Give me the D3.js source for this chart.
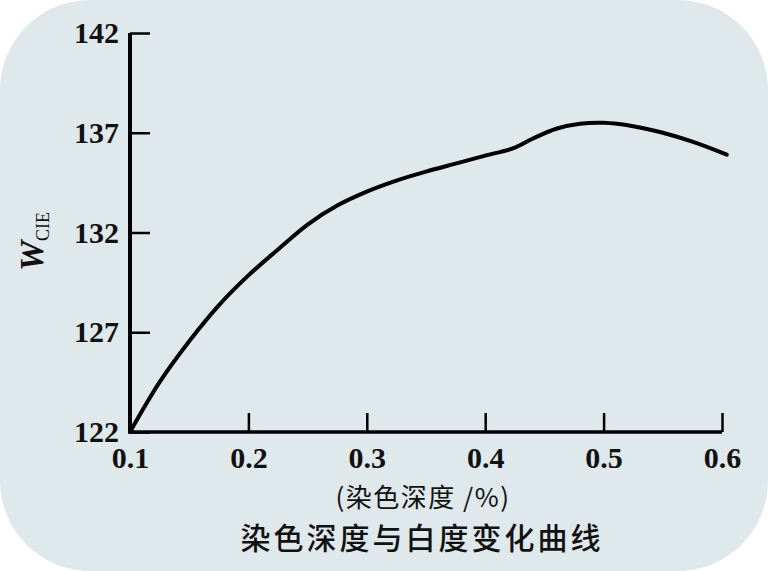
<!DOCTYPE html>
<html>
<head>
<meta charset="utf-8">
<script src="https://cdn.jsdelivr.net/npm/d3@7/dist/d3.min.js"></script>
<style>
  html, body { margin: 0; padding: 0; background: #ffffff; }
  svg { display: block; }
</style>
</head>
<body>
<svg id="chart" width="768" height="571"></svg>
<script>
// ---- data ----
const depth = [0.100, 0.125, 0.150, 0.175, 0.200, 0.225, 0.250, 0.275, 0.300, 0.325, 0.350, 0.375, 0.400, 0.425, 0.440, 0.460, 0.480, 0.500, 0.525, 0.550, 0.575, 0.604];
const whiteness = [122.0, 124.5, 126.55, 128.35, 129.85, 131.15, 132.4, 133.35, 134.05, 134.6, 135.05, 135.45, 135.85, 136.25, 136.7, 137.2, 137.45, 137.5, 137.33, 137.0, 136.55, 135.9];
const xTicks = [0.1, 0.2, 0.3, 0.4, 0.5, 0.6];
const yTicks = [122, 127, 132, 137, 142];
const xLabel = "(染色深度 /%)";
const title = "染色深度与白度变化曲线";

const svg = d3.select("#chart");

// background rounded panel
svg.append("rect")
  .attr("x", 0).attr("y", 0).attr("width", 768).attr("height", 571)
  .attr("rx", 90).attr("ry", 90)
  .attr("fill", "#dfe8eb");

const x = d3.scaleLinear().domain([0.1, 0.6]).range([130, 722]);
const y = d3.scaleLinear().domain([122, 142]).range([432, 33]);

const serif = "'Liberation Serif', 'DejaVu Serif', serif";
const cjk = "'Noto Sans CJK SC', 'Noto Sans', sans-serif";

// x axis
const xAxis = svg.append("g")
  .attr("transform", `translate(0,${y(122)})`)
  .call(d3.axisBottom(x).tickValues(xTicks).tickSize(-19).tickPadding(0).tickFormat(d3.format(".1f")));
xAxis.select(".domain").remove();
xAxis.selectAll(".tick line").attr("stroke", "#000").attr("stroke-width", 2.5);
xAxis.selectAll(".tick text")
  .attr("y", 36).attr("dy", 0)
  .attr("font-family", serif).attr("font-size", 30).attr("font-weight", "bold")
  .attr("fill", "#111");
xAxis.append("line")
  .attr("x1", x(0.1)).attr("x2", x(0.6)).attr("y1", 0).attr("y2", 0)
  .attr("stroke", "#000").attr("stroke-width", 3.5);

// y axis
const yAxis = svg.append("g")
  .attr("transform", `translate(${x(0.1)},0)`)
  .call(d3.axisLeft(y).tickValues(yTicks).tickSize(-20).tickPadding(0));
yAxis.select(".domain").remove();
yAxis.selectAll(".tick line").attr("stroke", "#000").attr("stroke-width", 2.5);
yAxis.selectAll(".tick text")
  .attr("x", -11).attr("dy", "0.32em")
  .attr("font-family", serif).attr("font-size", 30).attr("font-weight", "bold")
  .attr("fill", "#111");
yAxis.append("line")
  .attr("x1", 0).attr("x2", 0).attr("y1", y(142)).attr("y2", y(122) + 1.5)
  .attr("stroke", "#000").attr("stroke-width", 4);

// y axis title W_CIE
const yt = svg.append("text")
  .attr("transform", "translate(43,241.5) rotate(-90)")
  .attr("text-anchor", "middle")
  .attr("font-family", serif)
  .attr("fill", "#111");
yt.append("tspan").text("W").attr("font-size", 34).attr("font-style", "italic").attr("font-weight", "bold");
yt.append("tspan").text("CIE").attr("font-size", 18).attr("dy", 6);

// curve
const pts = depth.map((d, i) => [d, whiteness[i]]);
svg.append("path")
  .datum(pts)
  .attr("fill", "none")
  .attr("stroke", "#000")
  .attr("stroke-width", 4)
  .attr("stroke-linecap", "round")
  .attr("stroke-linejoin", "round")
  .attr("d", d3.line().x(d => x(d[0])).y(d => y(d[1])).curve(d3.curveCatmullRom.alpha(0.5)));

// x label
svg.append("text")
  .attr("x", 423).attr("y", 507)
  .attr("text-anchor", "middle")
  .attr("font-family", cjk).attr("font-size", 26)
  .attr("letter-spacing", 1.5)
  .attr("fill", "#111")
  .text(xLabel);

// title
svg.append("text")
  .attr("x", 422).attr("y", 549)
  .attr("text-anchor", "middle")
  .attr("font-family", cjk).attr("font-size", 30)
  .attr("font-weight", 500)
  .attr("letter-spacing", 3)
  .attr("fill", "#111")
  .text(title);
</script>
</body>
</html>
